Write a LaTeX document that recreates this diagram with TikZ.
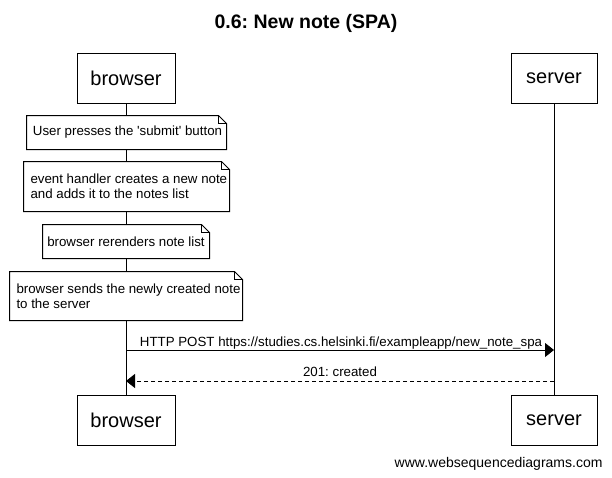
\documentclass[tikz,border=0pt]{standalone}
\usepackage{fontspec}
\setmainfont{Liberation Sans}
\usetikzlibrary{arrows.meta}
\frenchspacing
\newcommand\notefold[1]{%
  \fill[white] (#1.south west) -- (#1.north west) -- ([xshift=-8pt]#1.north east) -- ([yshift=-8pt]#1.north east) -- (#1.south east) -- cycle;
  \draw (#1.south west) -- (#1.north west) -- ([xshift=-8pt]#1.north east) -- ([yshift=-8pt]#1.north east) -- (#1.south east) -- cycle;
  \draw[line width=0.6pt] ([xshift=-8pt]#1.north east) -- ([xshift=-8pt,yshift=-8pt]#1.north east) -- ([yshift=-8pt]#1.north east);}
\begin{document}
\begin{tikzpicture}[x=1pt,y=-1pt,line width=1pt,
  actor/.style={draw,fill=white,minimum height=50pt,inner sep=0pt,font=\fontsize{20}{24}\selectfont},
  notebox/.style={inner sep=0pt,align=left,font=\fontsize{13.3}{15}\selectfont},
  msglabel/.style={inner sep=0pt,anchor=base,font=\fontsize{13.3}{15}\selectfont},
  msgtip/.style={-{Triangle[length=9pt,width=14pt]}}]
\useasboundingbox[fill=white] (0,0) rectangle (612,477);
\node[font=\bfseries\fontsize{19.5}{23}\selectfont] (title) at (306,23) {0.6: New note (SPA)};
% actors
\node[actor,minimum width=98pt] (b1) at (126,78) {browser};
\node[actor,minimum width=86pt] (s1) at (554,78) {server};
\node[actor,minimum width=98pt] (b2) at (126,420) {browser};
\node[actor,minimum width=86pt] (s2) at (554,420) {server};
% lifelines
\draw (b1.south) -- (b2.north);
\draw (s1.south) -- (s2.north);
% notes
\node[notebox,minimum width=199pt,minimum height=33pt] (n1) at (126.5,132.5) {};
\notefold{n1}
\node[notebox] (t1) at (127.5,132.5) {User presses the \textquotesingle submit\textquotesingle{} button};
\node[notebox,minimum width=205pt,minimum height=49pt] (n2) at (126.5,186.5) {};
\notefold{n2}
\node[notebox,anchor=west] (t2) at (30,186.5) {event handler creates a new note\\and adds it to the notes list};
\node[notebox,minimum width=166pt,minimum height=33pt] (n3) at (126,241.5) {};
\notefold{n3}
\node[notebox] (t3) at (126,241.5) {browser rerenders note list};
\node[notebox,minimum width=232pt,minimum height=48pt] (n4) at (126,296) {};
\notefold{n4}
\node[notebox,anchor=west] (t4) at (16,296) {browser sends the newly created note\\to the server};
% messages
\coordinate (m1s) at (126,350);
\coordinate (m1e) at (554,350);
\draw[msgtip] (m1s) -- (m1e);
\node[msglabel] (l1) at (341,346) {HTTP POST https://studies.cs.helsinki.fi/exampleapp/new\_note\_spa};
\coordinate (m2s) at (554,381);
\coordinate (m2e) at (126,381);
\draw[msgtip,dash pattern=on 4pt off 3pt] (m2s) -- (m2e);
\node[msglabel] (l2) at (340,376) {201: created};
% footer
\node[inner sep=0pt,anchor=base east,font=\fontsize{14}{16}\selectfont] (foot) at (603,467) {www.websequencediagrams.com};
\end{tikzpicture}
\end{document}
